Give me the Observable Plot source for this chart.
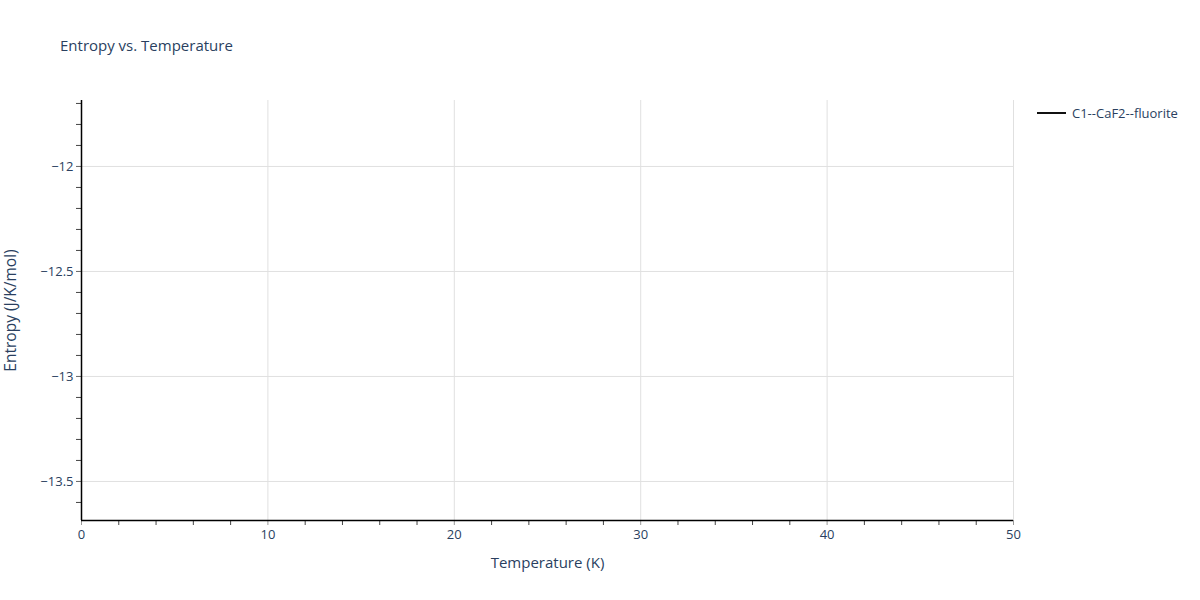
<!DOCTYPE html>
<html>
<head>
<meta charset="utf-8">
<script src="https://cdn.jsdelivr.net/npm/d3@7"></script>
<script src="https://cdn.jsdelivr.net/npm/@observablehq/plot@0.6"></script>
<style>
  body { margin: 0; background: #fff; font-family: "Open Sans", sans-serif; }
  #wrap { position: relative; width: 1200px; height: 600px; }
  #title { position: absolute; left: 60px; top: 35px; font-size: 15px; color: #2a3f5f; }
  #legend { position: absolute; left: 1037px; top: 104px; font-size: 13px; color: #2a3f5f; display: flex; align-items: center; }
  #legend .sw { width: 29px; height: 0; border-top: 2px solid #111; margin-right: 6px; }
</style>
</head>
<body>
<div id="wrap">
  <div id="chart"></div>
  <div id="title">Entropy vs. Temperature</div>
  <div id="legend"><span class="sw"></span><span>C1--CaF2--fluorite</span></div>
</div>
<script>
// Data: the series shows no visible points in the reference
const seriesName = "C1--CaF2--fluorite";
const temperature = [];
const entropy = [];

const xDomain = [0, 50];
const yDomain = [-13.686, -11.686];
const xMajor = [0, 10, 20, 30, 40, 50];
const xMinor = [2, 4, 6, 8, 12, 14, 16, 18, 22, 24, 26, 28, 32, 34, 36, 38, 42, 44, 46, 48];
const yMajor = [-13.5, -13, -12.5, -12];
const yMinor = [-13.6, -13.4, -13.3, -13.2, -13.1, -12.9, -12.8, -12.7, -12.6, -12.4, -12.3, -12.2, -12.1, -11.9, -11.8, -11.7];
const xTitle = "Temperature (K)";
const yTitle = "Entropy (J/K/mol)";

const data = temperature.map((t, i) => ({t, s: entropy[i], series: seriesName}));
const blank = () => "";
const fmt = d => (d < 0 ? "\u2212" : "") + String(Math.abs(d));

const chart = Plot.plot({
  width: 1200,
  height: 600,
  marginLeft: 81,
  marginRight: 187,
  marginTop: 100,
  marginBottom: 80,
  style: { fontFamily: "Open Sans, sans-serif", fontSize: "13px", color: "#2a3f5f", background: "#fff" },
  x: { domain: xDomain },
  y: { domain: yDomain },
  marks: [
    Plot.ruleX(xMajor.filter(d => d > 0), { stroke: "#e0e0e0", strokeWidth: 1, strokeOpacity: 1 }),
    Plot.ruleY(yMajor, { stroke: "#e0e0e0", strokeWidth: 1, strokeOpacity: 1 }),
    Plot.axisX(xMinor, { tickSize: 5, tickFormat: blank, stroke: "#444", strokeOpacity: 1, label: null }),
    Plot.axisX(xMajor, { tickSize: 5, tickPadding: 4, stroke: "#999", strokeOpacity: 1, fill: "#2a3f5f", label: null, fontSize: 13 }),
    Plot.axisY(yMinor, { tickSize: 5, tickFormat: blank, stroke: "#444", strokeOpacity: 1, label: null }),
    Plot.axisY(yMajor, { tickSize: 5, tickPadding: 3, tickFormat: fmt, stroke: "#666", strokeOpacity: 1, fill: "#2a3f5f", label: null, fontSize: 13 }),
    Plot.ruleX([xDomain[0]], { stroke: "#000", strokeWidth: 1.5 }),
    Plot.ruleY([yDomain[0]], { stroke: "#000", strokeWidth: 1.5 }),
    Plot.text([xTitle], { frameAnchor: "bottom", dy: 47, fill: "#2a3f5f", fontSize: 15 }),
    Plot.text([yTitle], { frameAnchor: "left", dx: -70, rotate: -90, textAnchor: "middle", fill: "#2a3f5f", fontSize: 15.5 }),
    Plot.line(data, { x: "t", y: "s", stroke: "#111", strokeWidth: 2 })
  ]
});
document.getElementById("chart").appendChild(chart);
</script>
</body>
</html>
